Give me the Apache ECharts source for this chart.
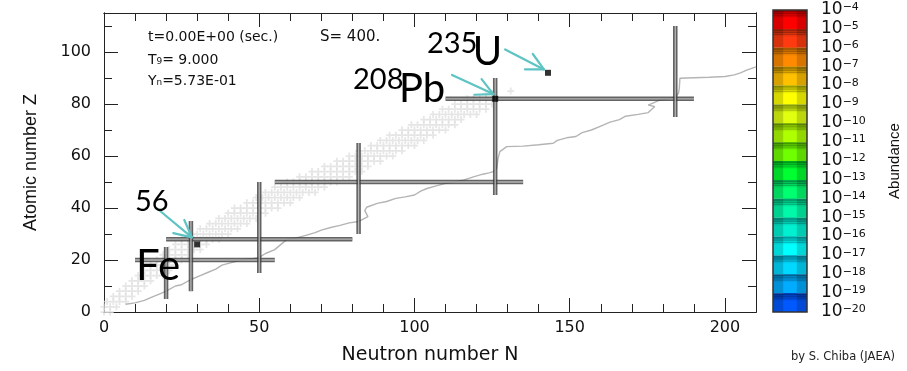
<!DOCTYPE html>
<html><head><meta charset="utf-8">
<script src="https://cdn.jsdelivr.net/npm/echarts@6/dist/echarts.min.js"></script>
<style>html,body{margin:0;padding:0;background:#fff}#c{width:907px;height:371px}</style>
</head><body><div id="c"></div><script>
// ---------------- data ----------------
// band of known nuclides (light grey crosses): for each Z, range of N
const bandZ    = [0,2,4,6,8,10,12,14,16,18,20,22,24,26,28,30,32,34,36,38,40,42,44,46,48,50,52,54,56,58,60,62,64,66,68,70,72,74,76,78,80,82,84];
const bandNmin = [0,0,1,3,5,7,9,11,13,15,17,19,21,23,25,28,31,34,37,40,42,46,49,52,55,59,63,67,71,75,79,82,86,89,92,96,99,103,106,109,113,117,123];
const bandNmax = [2,5,7,9,11,13,15,19,21,23,26,28,31,34,37,40,43,46,50,53,57,60,64,68,72,76,80,83,86,90,93,96,100,103,106,110,113,116,120,123,125,126,125];
const bandExtra = [[131,85]];
// grey path line (N, Z)
const curveN = [7,10,13,16,18,20,23,25,28,31,33,36,38,41,44,48,50,52,55,57,59,62,65,68,70,73,76,79,82,83,85,84,84.6,88,91,94,97,100,102,104,107,110,113,116,119,122,124,125.4,126.5,126.9,127.5,129.7,135,140,144.7,146,149,152,154,157,160,163,166,168,172,175.3,177.4,175.3,179,182,184,185,185.3,185.5,190,195,200,203,205,207,210];
const curveZ = [3,3.5,4.5,6,7,8,10,10.5,12.5,14,15,16.5,18,19,20,20.5,21,22.5,24,26,28,28.5,29.5,30.5,31.5,32.5,33.3,34.3,34.8,35.4,36.7,39,40.3,41.8,42.5,43.7,44.3,45,46.5,47.5,48.5,49.5,50,50.8,52,53,53.5,54,55.3,59,61.7,63.6,63.8,64.3,64.9,66,67,67.5,69,70,71.5,73,74,75.3,76,76.7,79,79.6,81.5,82,82.8,84,86,89.9,90.1,90.3,90.6,91.2,92,93,94.3];
// magic number lines
const magicHZ  = [20,28,50,82];      const magicHN1 = [10,20,55,110]; const magicHN2 = [55,80,135,190];
const magicVN  = [20,28,50,82,126,184]; const magicVZ1 = [5,8,15,30,45,75]; const magicVZ2 = [25,35,50,65,90,110];
// highlighted nuclides
const nucN = [30,126,143];
const nucZ = [26,82,92];
// annotation arrows [tailN, tailZ, tipN, tipZ]
const arrowTailN = [17.0,112.1,129.2];
const arrowTailZ = [39.9,91.2,101.0];
const arrowTipN  = [28.3,125.4,141.7];
const arrowTipZ  = [28.7,83.8,93.3];
// annotation labels
const annoText = ['56','Fe','208','Pb','235','U'];
const annoN    = [10.0,10.3,80.2,95.0,104.0,118.8];
const annoZ    = [42.5,17.7,89.2,85.8,103.1,99.8];
const annoSize = [29,42,29,40,29,40];
// colour bar
const cbLevels = [-4,-5,-6,-7,-8,-9,-10,-11,-12,-13,-14,-15,-16,-17,-18,-19,-20];
const cbColors = ['#ff0000','#ff3a10','#ff8a00','#ffc000','#ffff00','#e0ff10','#b0ff00','#70ff00','#00ff30','#00ff70','#00f8a8','#00f0d0','#00ffff','#00d8ff','#00acff','#0058ff'];
// info texts
const infoLines = ['t=0.00E+00 (sec.)','T\u2089= 9.000','Y\u2099=5.73E-01'];

// ---------------- helpers ----------------
function shade(hex, f){
  const r=parseInt(hex.slice(1,3),16), g=parseInt(hex.slice(3,5),16), b=parseInt(hex.slice(5,7),16);
  return 'rgb('+Math.round(r*f)+','+Math.round(g*f)+','+Math.round(b*f)+')';
}
const bandPoints = [];
bandZ.forEach((z,i)=>{ for(let n=bandNmin[i]; n<=bandNmax[i]; n+=2) bandPoints.push([n,z]); });
bandExtra.forEach(p=>bandPoints.push(p));
const curveData = curveN.map((n,i)=>[n,curveZ[i]]);
const magicData = magicHZ.map((z,i)=>[magicHN1[i],z,magicHN2[i],z])
  .concat(magicVN.map((n,i)=>[n,magicVZ1[i],n,magicVZ2[i]]));
const arrowData = arrowTailN.map((n,i)=>[n,arrowTailZ[i],arrowTipN[i],arrowTipZ[i]]);
const annoData = annoText.map((t,i)=>[annoN[i],annoZ[i],i]);
const cbData = cbColors.map((c,i)=>[cbLevels[i+1],cbLevels[i],i]);

const AX = '#222';
const TF = 'DejaVu Sans';
function xAx(pos, interval, len, labels){
  return {type:'value', gridIndex:0, position:pos, min:0, max:210, interval:interval,
    axisLine:{show:true, onZero:false, lineStyle:{color:AX,width:1}},
    axisTick:{show:true, inside:true, length:len, lineStyle:{color:AX,width:1}},
    axisLabel:{show:labels, showMaxLabel:false, margin:8, fontFamily:TF, fontSize:16, color:'#111'},
    splitLine:{show:false}};
}
function yAx(pos, interval, len, labels){
  return {type:'value', gridIndex:0, position:pos, min:0, max:115, interval:interval,
    axisLine:{show:true, onZero:false, lineStyle:{color:AX,width:1}},
    axisTick:{show:true, inside:true, length:len, lineStyle:{color:AX,width:1}},
    axisLabel:{show:labels, showMaxLabel:false, margin:13, fontFamily:TF, fontSize:16, color:'#111'},
    splitLine:{show:false}};
}
const xAxes = [xAx('bottom',50,14,true), xAx('bottom',10,8,false), xAx('top',50,14,false), xAx('top',10,8,false)];
xAxes[0].name = 'Neutron number N'; xAxes[0].nameLocation='middle'; xAxes[0].nameGap=34;
xAxes[0].nameTextStyle = {fontFamily:TF, fontSize:19, color:'#111'};
xAxes.push({type:'value', gridIndex:1, min:0, max:1, show:false});
const yAxes = [yAx('left',20,14,true), yAx('left',10,8,false), yAx('right',20,14,false), yAx('right',10,8,false)];
yAxes[0].name = 'Atomic number Z'; yAxes[0].nameLocation='middle'; yAxes[0].nameGap=64; yAxes[0].nameRotate=90;
yAxes[0].nameTextStyle = {fontFamily:'Liberation Sans', fontSize:18, color:'#111'};
yAxes.push({type:'value', gridIndex:1, position:'right', min:-20, max:-4, interval:1,
  axisLine:{show:false}, axisTick:{show:false}, splitLine:{show:false},
  axisLabel:{show:true, margin:14, showMinLabel:true, showMaxLabel:true, hideOverlap:false,
    formatter:v=>'{b|10}{s|\u2212'+(-v)+'}',
    rich:{b:{fontFamily:TF,fontSize:17,lineHeight:16,color:'#111',verticalAlign:'bottom'},
          s:{fontFamily:TF,fontSize:11,lineHeight:11,color:'#111',verticalAlign:'top',padding:[0,0,7,0]}}},
  name:'Abundance', nameLocation:'middle', nameGap:80, nameRotate:90,
  nameTextStyle:{fontFamily:'Liberation Sans', fontSize:15, color:'#111'}});

const option = {
  animation:false,
  backgroundColor:'#fff',
  grid:[{left:104, top:13, width:652, height:299}, {left:773, top:10, width:34, height:302}],
  xAxis:xAxes, yAxis:yAxes,
  graphic: infoLines.map((t,i)=>({type:'text', x:148, y:[37,60,81][i], z:10,
      style:{text:t, fontFamily:TF, fontSize:14, fill:'#111', verticalAlign:'middle'}}))
    .concat([{type:'text', x:320, y:37, z:10, style:{text:'S= 400.', fontFamily:TF, fontSize:15, fill:'#111', verticalAlign:'middle'}},
             {type:'text', x:895, y:357, z:10, style:{text:'by S. Chiba (JAEA)', fontFamily:TF, fontSize:11.5, fill:'#222', align:'right', verticalAlign:'middle'}}]),
  series:[
    {type:'scatter', name:'nuclides', xAxisIndex:0, yAxisIndex:0, z:1, silent:true,
     symbol:'path://M3,0H5V3H8V5H5V8H3V5H0V3H3Z', symbolSize:7,
     itemStyle:{color:'#e0e0e0'}, data:bandPoints},
    {type:'line', name:'path', xAxisIndex:0, yAxisIndex:0, z:2, showSymbol:false, symbol:'none',
     lineStyle:{color:'#b4b4b4', width:1.4}, data:curveData},
    {type:'custom', name:'magic', xAxisIndex:0, yAxisIndex:0, z:3, silent:true,
     encode:{x:[0,2], y:[1,3]}, data:magicData,
     renderItem:(params, api)=>{
       const a = api.coord([api.value(0), api.value(1)]), b = api.coord([api.value(2), api.value(3)]);
       return {type:'group', children:[
         {type:'line', shape:{x1:a[0],y1:a[1],x2:b[0],y2:b[1]}, style:{stroke:'rgba(60,60,60,0.8)', lineWidth:4.5}},
         {type:'line', shape:{x1:a[0],y1:a[1],x2:b[0],y2:b[1]}, style:{stroke:'rgba(185,185,185,0.95)', lineWidth:1.3}}
       ]};
     }},
    {type:'scatter', name:'key', xAxisIndex:0, yAxisIndex:0, z:4, symbol:'rect', symbolSize:6,
     itemStyle:{color:'#000'}, data:nucN.map((n,i)=>[n,nucZ[i]])},
    {type:'custom', name:'arrows', xAxisIndex:0, yAxisIndex:0, z:5, silent:true,
     encode:{x:[0,2], y:[1,3]}, data:arrowData,
     renderItem:(params, api)=>{
       const a = api.coord([api.value(0), api.value(1)]), b = api.coord([api.value(2), api.value(3)]);
       const ang = Math.atan2(b[1]-a[1], b[0]-a[0]), L = 19, sp = 0.47;
       const h1 = [b[0]-L*Math.cos(ang-sp), b[1]-L*Math.sin(ang-sp)];
       const h2 = [b[0]-L*Math.cos(ang+sp), b[1]-L*Math.sin(ang+sp)];
       const st = {stroke:'#5ec3c3', lineWidth:2.2, fill:null, lineCap:'round', lineJoin:'round'};
       return {type:'group', children:[
         {type:'line', shape:{x1:a[0],y1:a[1],x2:b[0],y2:b[1]}, style:st},
         {type:'polyline', shape:{points:[h1,b,h2]}, style:st}
       ]};
     }},
    {type:'custom', name:'labels', xAxisIndex:0, yAxisIndex:0, z:6, silent:true,
     encode:{x:0, y:1}, data:annoData,
     renderItem:(params, api)=>{
       const p = api.coord([api.value(0), api.value(1)]); const i = api.value(2);
       return {type:'text', x:p[0], y:p[1], style:{text:annoText[i], fontFamily:'Lato', fontSize:annoSize[i], fill:'#000', align:'left', verticalAlign:'middle'}};
     }},
    {type:'custom', name:'colorbar', xAxisIndex:4, yAxisIndex:4, z:2, silent:true,
     encode:{y:[0,1]}, data:cbData,
     renderItem:(params, api)=>{
       const lo = api.value(0), hi = api.value(1), c = cbColors[api.value(2)];
       const t = api.coord([0, hi]), bt = api.coord([1, lo]);
       const x0=t[0], y0=t[1], w=bt[0]-t[0], h=bt[1]-t[1];
       const ch = [
         {type:'rect', shape:{x:x0,y:y0,width:w,height:h}, style:{fill:shade(c,0.84)}},
         {type:'rect', shape:{x:x0+w*0.3,y:y0,width:w*0.4,height:h}, style:{fill:c}},
         {type:'rect', shape:{x:x0,y:y0,width:w,height:h*0.45}, style:{fill:new echarts.graphic.LinearGradient(0,0,0,1,[{offset:0,color:'rgba(0,0,0,0.35)'},{offset:1,color:'rgba(0,0,0,0)'}])}}
       ];
       for (let k=0;k<3;k++) ch.push({type:'rect', shape:{x:x0,y:y0+1+k*2.2,width:w,height:0.8}, style:{fill:'rgba(0,0,0,0.22)'}});
       return {type:'group', children:ch};
     }},
    {type:'custom', name:'colorbarFrame', xAxisIndex:4, yAxisIndex:4, z:3, silent:true,
     encode:{y:[0,1]}, data:[[cbLevels[cbLevels.length-1], cbLevels[0]]],
     renderItem:(params, api)=>{
       const t = api.coord([0, api.value(1)]), bt = api.coord([1, api.value(0)]);
       return {type:'rect', shape:{x:t[0],y:t[1],width:bt[0]-t[0],height:bt[1]-t[1]}, style:{fill:null, stroke:'#333', lineWidth:1.5}};
     }}
  ]
};
const chart = echarts.init(document.getElementById('c'), null, {renderer:'canvas'});
chart.setOption(option);
</script></body></html>
